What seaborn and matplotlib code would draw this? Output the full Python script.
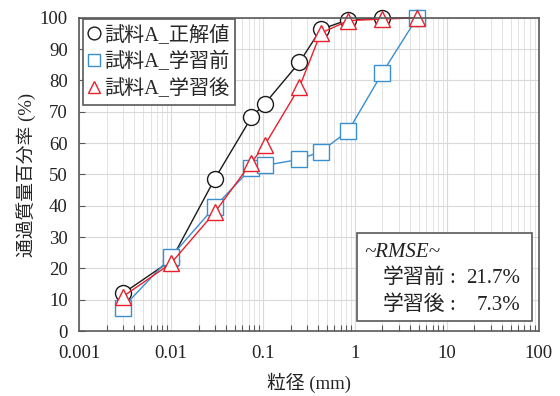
import matplotlib
matplotlib.use("Agg")
import matplotlib.pyplot as plt
import matplotlib.patches as mpatches
from matplotlib.lines import Line2D
from matplotlib.ticker import LogLocator, FixedLocator, FuncFormatter
import seaborn as sns
import pandas as pd

# sieve sizes (mm) and percent passing
sizes = [0.003, 0.01, 0.03, 0.075, 0.105, 0.25, 0.425, 0.85, 2.0, 4.75]
true_vals = [12.0, 22.5, 48.6, 68.2, 72.6, 85.8, 96.3, 99.4, 99.9, 100.0]
before_vals = [7.5, 23.7, 39.7, 52.0, 52.9, 54.8, 57.3, 63.9, 82.5, 100.0]
after_vals = [11.0, 21.6, 37.9, 53.8, 59.4, 77.9, 95.1, 99.1, 99.6, 100.0]

labels = ["試料A_正解値", "試料A_学習前", "試料A_学習後"]
colors = ["#1a1a1a", "#3a8fd0", "#e8202c"]
markers = ["o", "s", "^"]
msizes = [11.5, 11.0, 11.0]

rmse_names = ["学習前", "学習後"]
rmse_vals = ["21.7%", "7.3%"]

sns.set_theme(style="white")
plt.rcParams["font.family"] = ["Liberation Serif", "Noto Sans CJK JP", "DejaVu Sans"]

fig = plt.figure(figsize=(5.6, 3.96), dpi=100)
ax = fig.add_axes([0.141, 0.164, 0.821, 0.791])

series = [true_vals, before_vals, after_vals]
for vals, lab, c, m, ms in zip(series, labels, colors, markers, msizes):
    df = pd.DataFrame({"size": sizes, "pass": vals})
    sns.lineplot(data=df, x="size", y="pass", ax=ax, color=c, marker=m,
                 markersize=ms, markerfacecolor="white", markeredgecolor=c,
                 markeredgewidth=1.0, linewidth=1.0, sort=False, label=lab,
                 legend=False, clip_on=False)

ax.set_xscale("log")
ax.set_xlim(0.001, 100)
ax.set_ylim(0, 100)
ax.yaxis.set_major_locator(FixedLocator(range(0, 101, 10)))
ax.xaxis.set_major_locator(LogLocator(base=10, numticks=10))
ax.xaxis.set_minor_locator(LogLocator(base=10, subs=range(2, 10), numticks=50))
ax.xaxis.set_major_formatter(FuncFormatter(lambda v, p: f"{v:g}"))

ax.grid(True, which="major", color="#d9d9d9", linewidth=0.8)
ax.grid(True, which="minor", axis="x", color="#e3e3e3", linewidth=0.7)
ax.set_axisbelow(True)

ax.tick_params(axis="x", which="major", direction="in", length=0, labelsize=13.5, pad=10)
ax.tick_params(axis="x", which="minor", direction="in", length=4, width=0.8, color="#595959", bottom=True)
ax.tick_params(axis="y", which="major", direction="in", length=4, width=0.8, labelsize=13.5, pad=8,
               color="#595959", left=True)
for lbl in ax.get_xticklabels() + ax.get_yticklabels():
    lbl.set_color("#222222")

for sp in ax.spines.values():
    sp.set_color("#595959")
    sp.set_linewidth(1.2)

ax.set_xlabel("粒径 (mm)", fontsize=13.5, labelpad=8, color="#222222")
ax.set_ylabel("通過質量百分率 (%)", fontsize=13.5, labelpad=3, color="#222222")

handles = [Line2D([], [], linestyle="none", marker=m, markersize=ms * 0.8,
                  markerfacecolor="white", markeredgecolor=c, markeredgewidth=1.0)
           for c, m, ms in zip(colors, markers, msizes)]
leg = ax.legend(handles, labels, loc="upper left", bbox_to_anchor=(0.008, 0.995),
                fontsize=14.5, frameon=True, fancybox=False, edgecolor="#595959",
                framealpha=1, handlelength=0.55, handletextpad=0.2,
                labelspacing=0.33, borderpad=0.3, borderaxespad=0.0)
leg.get_frame().set_linewidth(1.2)

# RMSE box
box = mpatches.Rectangle((0.604, 0.032), 0.381, 0.281, transform=ax.transAxes,
                         facecolor="white", edgecolor="#595959", linewidth=1.2, zorder=5)
ax.add_patch(box)
ax.text(0.621, 0.252, "~RMSE~", transform=ax.transAxes, fontsize=15,
        style="italic", va="center", ha="left", zorder=6, color="#222222")
for i, (n, v) in enumerate(zip(rmse_names, rmse_vals)):
    y = 0.169 - i * 0.086
    ax.text(0.660, y, n, transform=ax.transAxes, fontsize=15, va="center",
            ha="left", zorder=6, color="#222222")
    ax.text(0.812, y, ":", transform=ax.transAxes, fontsize=15, va="center",
            ha="center", zorder=6, color="#222222")
    ax.text(0.960, y, v, transform=ax.transAxes, fontsize=15, va="center",
            ha="right", zorder=6, color="#222222")

fig.savefig("out.png", dpi=100)
